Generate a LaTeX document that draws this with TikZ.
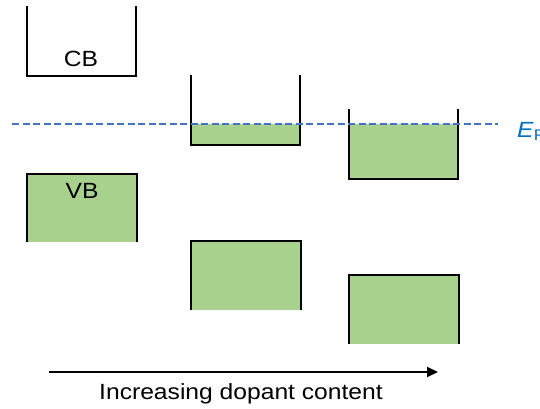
\documentclass[tikz,border=0pt]{standalone}
\usepackage{fontspec}
\setmainfont{Liberation Sans}
\usepackage{xcolor}
\usepackage{tikz}
\usetikzlibrary{arrows.meta}
\definecolor{bandgreen}{RGB}{169,209,142}
\definecolor{fermiblue}{RGB}{68,114,196}
\definecolor{efblue}{RGB}{0,112,192}

\begin{document}
\begin{tikzpicture}[x=1pt,y=-1pt,
      wall/.style={draw=black,line width=2.8pt},
      band/.style={fill=bandgreen},
      fermi/.style={draw=fermiblue,line width=2pt,dash pattern=on 7pt off 3.5pt},
      lbl/.style={anchor=base,font=\fontsize{22}{26}\selectfont,transform shape,xscale=1.12},
      arr/.style={-{Triangle[length=11pt,width=10pt]},line width=2pt}]
      \useasboundingbox (0,0) rectangle (540,409);
      \fill[band] (27,174) rectangle (137,242);
      \fill[band] (191,124) rectangle (300,145);
      \fill[band] (191,241) rectangle (301,310);
      \fill[band] (349,124) rectangle (458,179);
      \fill[band] (349,275) rectangle (459,344);
      \draw[wall] (27,6) -- (27,76) -- (136,76) -- (136,6);
      \draw[wall] (27,242) -- (27,174) -- (137,174) -- (137,242);
      \draw[wall] (191,75) -- (191,145) -- (300,145) -- (300,75);
      \draw[wall] (191,310) -- (191,241) -- (301,241) -- (301,310);
      \draw[wall] (349,109) -- (349,179) -- (458,179) -- (458,109);
      \draw[wall] (349,344) -- (349,275) -- (459,275) -- (459,344);
      \node[lbl] (cb) at (81,67) {CB};
      \node[lbl] (vb) at (82,198) {VB};
      \coordinate (efl) at (12,124);
      \coordinate (efr) at (498,124);
      \draw[fermi] (efl) -- (efr);
      \node[lbl,anchor=base west,text=efblue,inner sep=0pt] (ef) at (517,137) {\textit{E}\textsubscript{F}};
      \coordinate (dstart) at (49,372);
      \coordinate (dend) at (438,372);
      \draw[arr] (dstart) -- (dend);
      \node[lbl] (dop) at (241,399) {Increasing dopant content};
    \end{tikzpicture}
\end{document}
